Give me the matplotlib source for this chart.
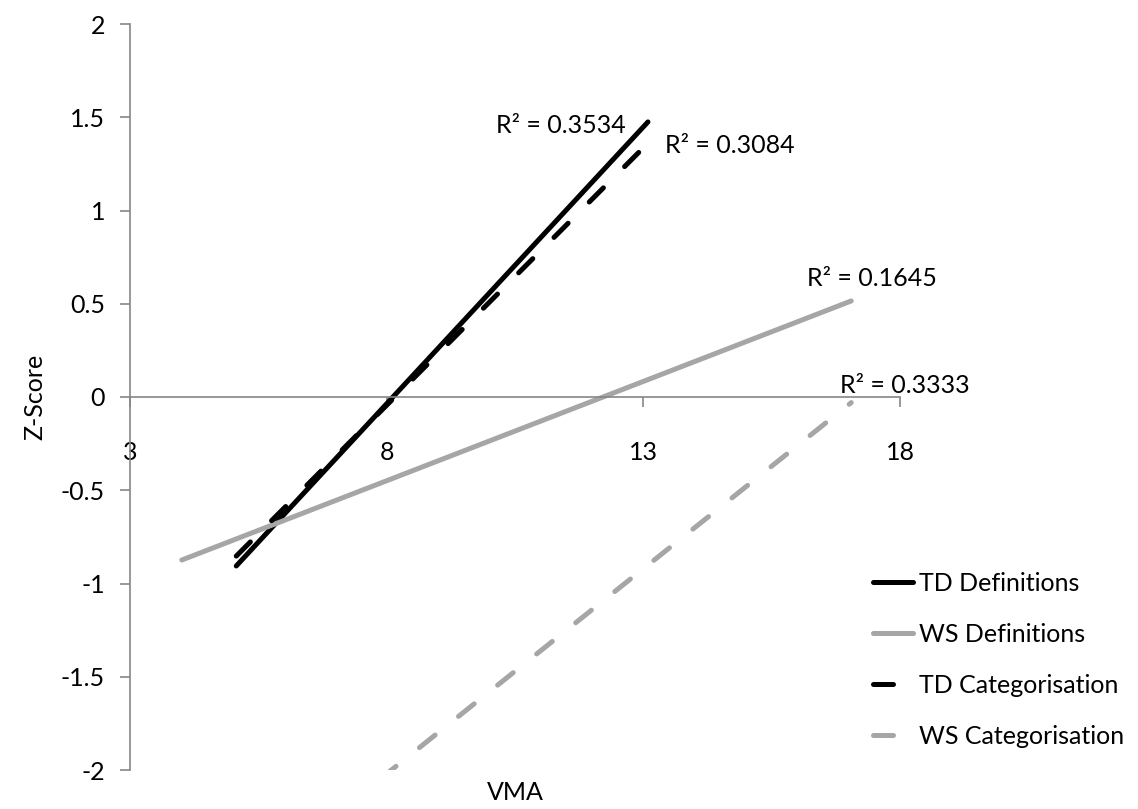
import numpy as np
import matplotlib
matplotlib.use("Agg")
import matplotlib.pyplot as plt

plt.rcParams['font.family'] = ['Lato', 'DejaVu Sans']

# trendline end points
names = ["TD Definitions", "WS Definitions", "TD Categorisation", "WS Categorisation"]
x_start = [5.07, 4.01, 5.07, 4.0]
x_end = [13.09, 17.05, 13.05, 17.05]
y_start = [-0.906, -0.874, -0.853, -2.9]
y_end = [1.475, 0.515, 1.35, -0.03]
r2_values = ["0.3534", "0.1645", "0.3084", "0.3333"]
# where Excel placed each R² label (left edge, vertical centre)
r2_pos = [(10.13, 1.458), (16.19, 0.638), (13.42, 1.351), (16.83, 0.064)]

x_ticks = [3, 8, 13, 18]
y_ticks = [-2, -1.5, -1, -0.5, 0, 0.5, 1, 1.5, 2]

colors = ["black", "#a6a6a6", "black", "#a6a6a6"]
dashed = [False, False, True, True]
fs = 18

fig = plt.figure(figsize=(11.38, 8.09), dpi=100)
ax = fig.add_axes([130/1138, 1-770/809, 770/1138, 746/809])

for i in range(len(names)):
    ln, = ax.plot([x_start[i], x_end[i]], [y_start[i], y_end[i]],
                  color=colors[i], lw=3.6, label=names[i],
                  solid_capstyle='round', dash_capstyle='round')
    if dashed[i]:
        ln.set_dashes((4, 6))
    ax.text(r2_pos[i][0], r2_pos[i][1], "R² = " + r2_values[i],
            fontsize=fs, va='center', ha='left', clip_on=False)

ax.set_xlim(3, 18)
ax.set_ylim(-2, 2)
ax.set_xticks(x_ticks)
ax.set_yticks(y_ticks)
ax.set_yticklabels([f"{v:g}" for v in y_ticks])

for s in ["top", "right"]:
    ax.spines[s].set_visible(False)
ax.spines["bottom"].set_position(("data", 0))
ax.spines["left"].set_position(("data", 3))
for s in ["bottom", "left"]:
    ax.spines[s].set_color("#868686")
    ax.spines[s].set_linewidth(1.2)

ax.tick_params(axis='both', colors="#868686", labelcolor="black",
               labelsize=fs, width=1.2, length=7, direction='out')
ax.tick_params(axis='x', pad=25)
ax.tick_params(axis='y', pad=11)

fig.text(515/1138, 1-793/809, "VMA", ha='center', va='center', fontsize=fs)
fig.text(35/1138, 1-397/809, "Z-Score", ha='center', va='center',
         rotation=90, fontsize=fs)

leg = fig.legend(loc='center left', bbox_to_anchor=(850/1138, 1-660/809),
                 frameon=False, fontsize=fs, handlelength=1.6,
                 handletextpad=0.25, labelspacing=1.12)

fig.savefig("out.png", dpi=100)
